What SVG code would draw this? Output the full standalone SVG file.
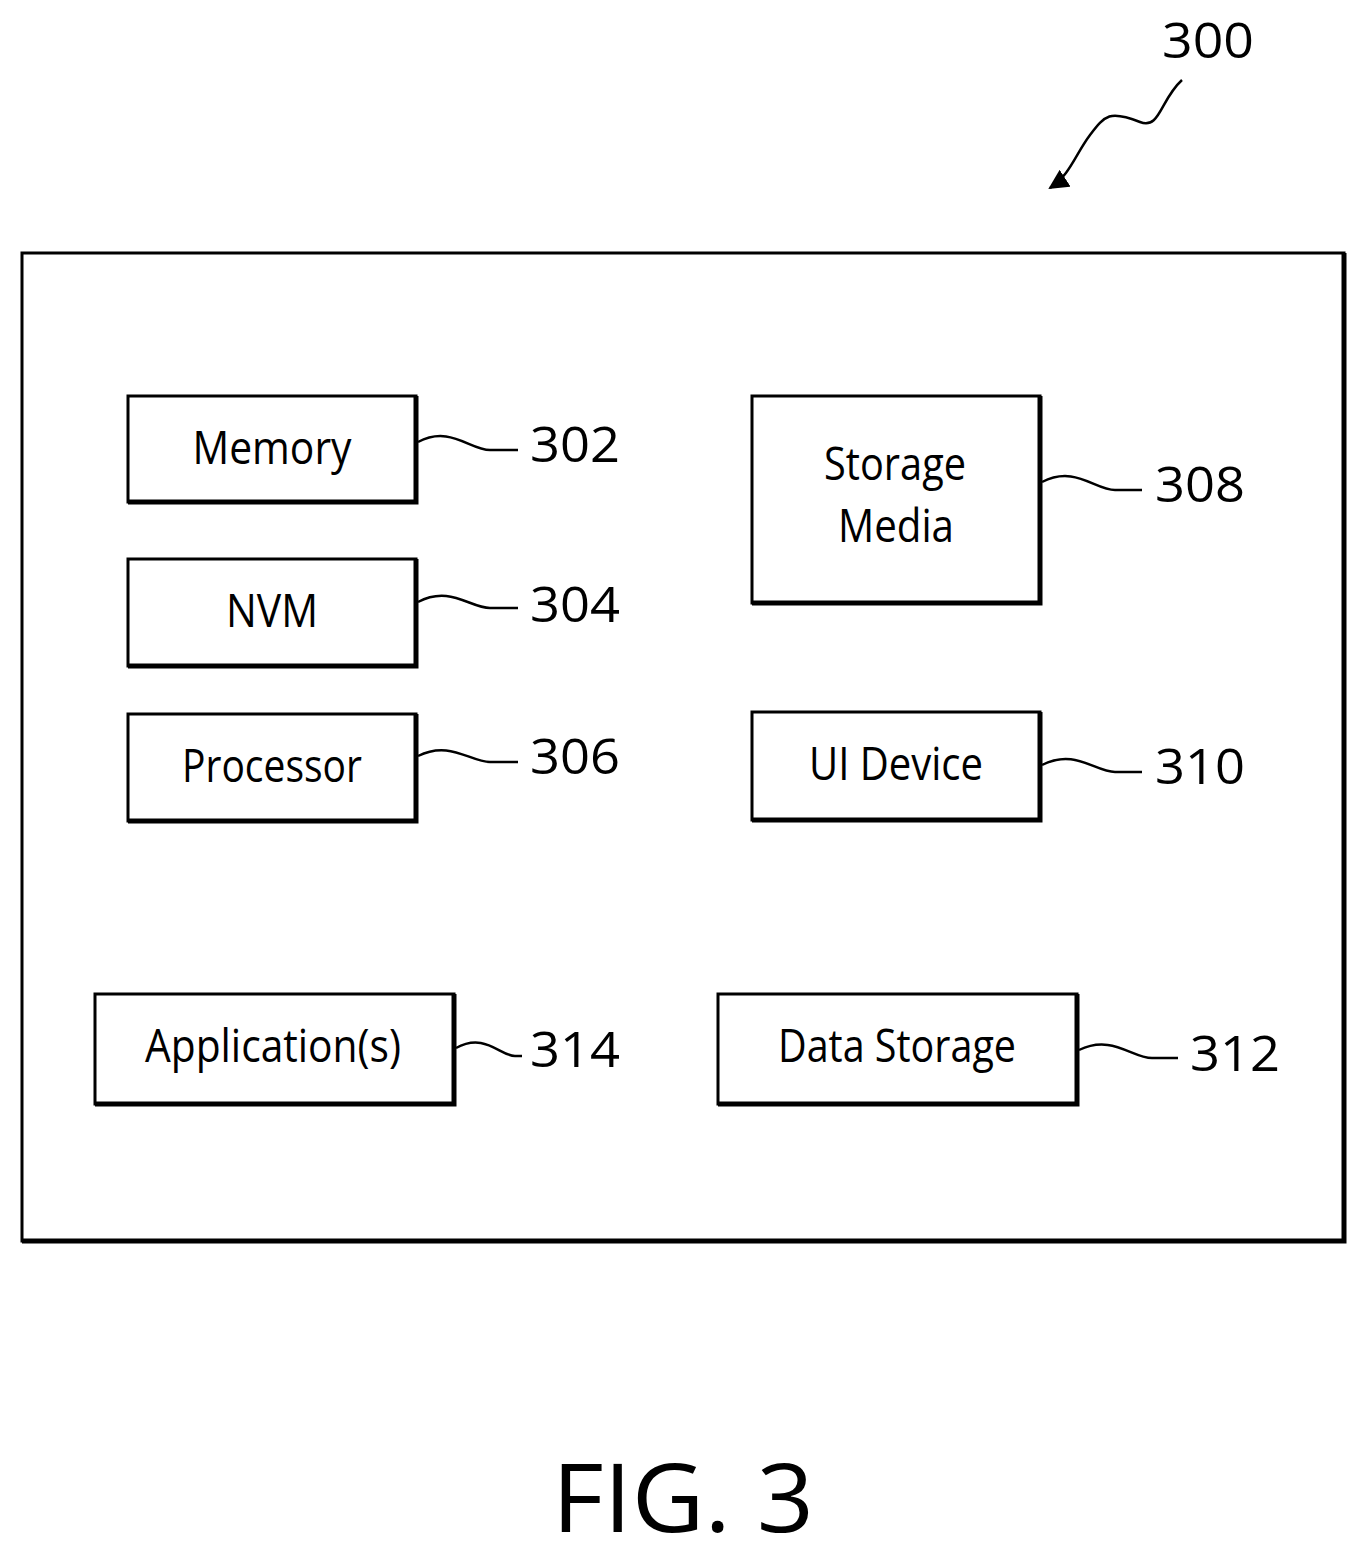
<svg xmlns="http://www.w3.org/2000/svg" width="1366" height="1558" viewBox="0 0 1366 1558">
<defs>
<style>
.b{fill:#fff;stroke:#000;stroke-width:3}
.s{fill:none;stroke:#000;stroke-width:5}
.t{font-family:"Open Sans","Noto Sans",sans-serif;font-size:46px;fill:#000;text-anchor:middle}
.n{font-family:"Open Sans","Noto Sans",sans-serif;font-size:50px;fill:#000}
.l{fill:none;stroke:#000;stroke-width:2.5}
</style>
<marker id="a" viewBox="0 0 10 10" refX="9" refY="5" markerWidth="8" markerHeight="8" orient="auto"><path d="M0,0L10,5L0,10z"/></marker>
</defs>
<rect width="1366" height="1558" fill="#fff"/>
<g id="outer"><rect class="b" x="22" y="253" width="1322" height="988"/><path class="s" d="M1344,253V1241H22"/></g>
<g id="n300"><text class="n" x="1162" y="58" textLength="92" lengthAdjust="spacingAndGlyphs">300</text><path class="l" d="M1182,80C1160,100 1160,130 1140,122C1110,110 1105,115 1090,135C1075,155 1070,175 1050,188" marker-end="url(#a)"/></g>
<g id="memory"><rect class="b" x="128" y="396" width="288" height="106"/><path class="s" d="M416,396V502H128"/><text class="t" x="272" y="464" textLength="159" lengthAdjust="spacingAndGlyphs">Memory</text></g>
<g id="nvm"><rect class="b" x="128" y="559" width="288" height="107"/><path class="s" d="M416,559V666H128"/><text class="t" x="272" y="627" textLength="92" lengthAdjust="spacingAndGlyphs">NVM</text></g>
<g id="processor"><rect class="b" x="128" y="714" width="288" height="107"/><path class="s" d="M416,714V821H128"/><text class="t" x="272" y="782" textLength="180" lengthAdjust="spacingAndGlyphs">Processor</text></g>
<g id="storage"><rect class="b" x="752" y="396" width="288" height="207"/><path class="s" d="M1040,396V603H752"/><text class="t" x="895" y="480" textLength="142" lengthAdjust="spacingAndGlyphs">Storage</text><text class="t" x="896" y="542" textLength="116" lengthAdjust="spacingAndGlyphs">Media</text></g>
<g id="ui"><rect class="b" x="752" y="712" width="288" height="108"/><path class="s" d="M1040,712V820H752"/><text class="t" x="896" y="780" textLength="174" lengthAdjust="spacingAndGlyphs">UI Device</text></g>
<g id="apps"><rect class="b" x="95" y="994" width="359" height="110"/><path class="s" d="M454,994V1104H95"/><text class="t" x="273" y="1062" textLength="256" lengthAdjust="spacingAndGlyphs">Application(s)</text></g>
<g id="data"><rect class="b" x="718" y="994" width="359" height="110"/><path class="s" d="M1077,994V1104H718"/><text class="t" x="897" y="1062" textLength="238" lengthAdjust="spacingAndGlyphs">Data Storage</text></g>
<g id="connectors">
<path class="l" d="M418,442C450,425 470,450 490,450L518,450"/>
<path class="l" d="M418,602C450,585 470,608 490,608L518,608"/>
<path class="l" d="M418,756C450,740 470,762 490,762L518,762"/>
<path class="l" d="M1042,482C1075,465 1095,490 1115,490L1142,490"/>
<path class="l" d="M1042,765C1075,748 1095,772 1115,772L1142,772"/>
<path class="l" d="M456,1048C485,1032 500,1056 515,1056L522,1056"/>
<path class="l" d="M1079,1050C1112,1034 1132,1058 1152,1058L1178,1058"/>
</g>
<g id="labels">
<text class="n" x="530" y="462" textLength="90" lengthAdjust="spacingAndGlyphs">302</text>
<text class="n" x="530" y="622" textLength="90" lengthAdjust="spacingAndGlyphs">304</text>
<text class="n" x="530" y="774" textLength="90" lengthAdjust="spacingAndGlyphs">306</text>
<text class="n" x="1155" y="502" textLength="90" lengthAdjust="spacingAndGlyphs">308</text>
<text class="n" x="1155" y="784" textLength="90" lengthAdjust="spacingAndGlyphs">310</text>
<text class="n" x="530" y="1067" textLength="90" lengthAdjust="spacingAndGlyphs">314</text>
<text class="n" x="1190" y="1071" textLength="90" lengthAdjust="spacingAndGlyphs">312</text>
</g>
<text x="683" y="1532" font-family="Open Sans,Noto Sans,sans-serif" font-size="96" text-anchor="middle" textLength="262" lengthAdjust="spacingAndGlyphs">FIG. 3</text>
</svg>
